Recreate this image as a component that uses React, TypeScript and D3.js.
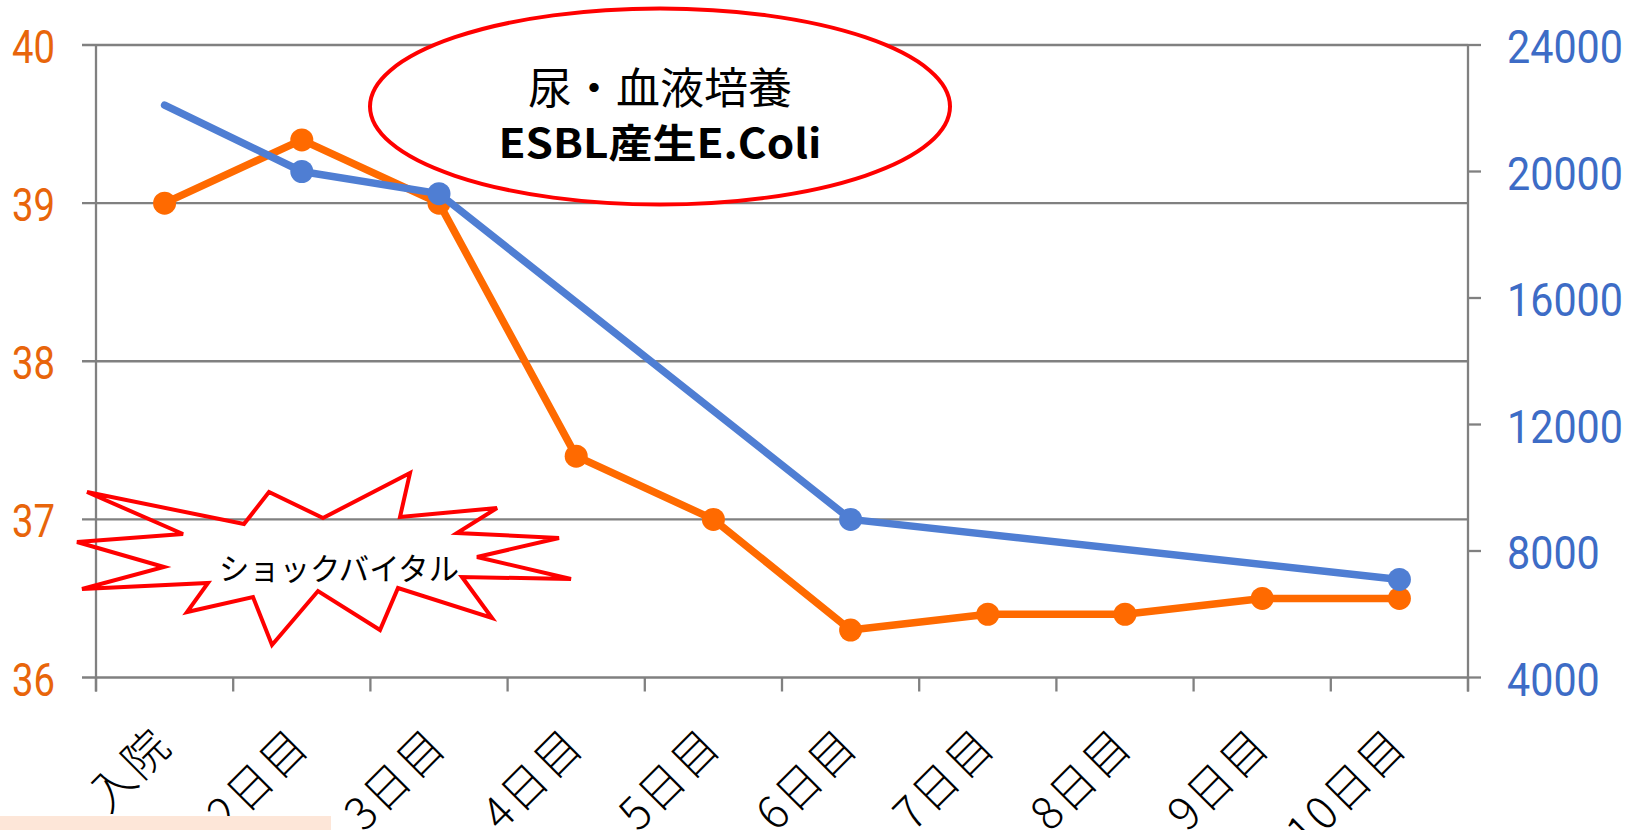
import React from 'react';
import * as d3 from 'd3';

const categories = ["入院", "2日目", "3日目", "4日目", "5日目", "6日目", "7日目", "8日目", "9日目", "10日目"];
const temperature = [39.0, 39.4, 39.0, 37.4, 37.0, 36.3, 36.4, 36.4, 36.5, 36.5];
const wbc: (number | null)[] = [22100, 20000, 19300, null, null, 9000, null, null, null, 7100];
const wbcMarker = [false, true, true, false, false, true, false, false, false, true];
const leftTicks = [36, 37, 38, 39, 40];
const rightTicks = [4000, 8000, 12000, 16000, 20000, 24000];
const cultureNote = ["尿・血液培養", "ESBL産生E.Coli"];
const shockNote = "ショックバイタル";

const W = 1637;
const H = 830;
const PLOT = { left: 96, right: 1468, top: 45, bottom: 677.5 };

// annotation shape (starburst outline)
const STAR: [number, number][] = [
  [87, 492], [244, 524], [269, 492], [323, 518], [410, 473], [400, 517],
  [497, 508], [457, 533], [559, 538], [477, 557], [571, 579], [462, 577],
  [492, 618], [398, 588], [380, 630], [318, 591], [272, 645], [253, 597],
  [187, 612], [208, 583], [82, 589], [164, 567], [77, 542], [183, 534],
];

const GRAY = '#808080';
const ORANGE = '#FF6A00';
const BLUE = '#4F7ED3';
const ORANGE_TXT = '#E8650A';
const BLUE_TXT = '#3D6CC6';

export default function App() {
  const x = d3.scaleBand<string>().domain(categories).range([PLOT.left, PLOT.right]).padding(0);
  const cx = (i: number) => (x(categories[i]) as number) + x.bandwidth() / 2;
  const yL = d3.scaleLinear().domain([36, 40]).range([PLOT.bottom, PLOT.top]);
  const yR = d3.scaleLinear().domain([4000, 24000]).range([PLOT.bottom, PLOT.top]);

  const tempPts = temperature.map((v, i) => [cx(i), yL(v)] as [number, number]);
  const wbcPts = wbc
    .map((v, i) => (v == null ? null : { i, p: [cx(i), yR(v)] as [number, number] }))
    .filter((d): d is { i: number; p: [number, number] } => d !== null);

  const line = d3.line<[number, number]>().x(d => d[0]).y(d => d[1]);
  const bounds = [...categories.map(c => x(c) as number), PLOT.right];

  const starPath = d3.line<[number, number]>().curve(d3.curveLinearClosed)(STAR) as string;

  const numFont = 'Roboto, "Noto Sans", sans-serif';
  const jpFont = '"Noto Sans CJK JP", sans-serif';

  return (
    <svg width={W} height={H} style={{ position: 'absolute', left: 0, top: 0, display: 'block', background: '#fff' }}>
      <rect x={0} y={0} width={W} height={H} fill="#fff" />
      {/* gridlines */}
      {leftTicks.map(t => (
        <line key={'g' + t} x1={PLOT.left - 14} x2={PLOT.right} y1={yL(t)} y2={yL(t)} stroke={GRAY} strokeWidth={2.3} />
      ))}
      {/* right ticks */}
      {rightTicks.map(t => (
        <line key={'rt' + t} x1={PLOT.right} x2={PLOT.right + 13} y1={yR(t)} y2={yR(t)} stroke={GRAY} strokeWidth={2.3} />
      ))}
      {/* x ticks */}
      {bounds.map((b, i) => (
        <line key={'xt' + i} x1={b} x2={b} y1={PLOT.bottom} y2={PLOT.bottom + 14} stroke={GRAY} strokeWidth={2.3} />
      ))}
      {/* axes */}
      <line x1={PLOT.left} x2={PLOT.left} y1={PLOT.top} y2={PLOT.bottom + 14} stroke={GRAY} strokeWidth={2.3} />
      <line x1={PLOT.right} x2={PLOT.right} y1={PLOT.top} y2={PLOT.bottom + 14} stroke={GRAY} strokeWidth={2.3} />

      {/* starburst annotation */}
      <path d={starPath} fill="none" stroke="#FF0000" strokeWidth={4} strokeLinejoin="miter" />
      <text x={339} y={566} fontFamily={jpFont} fontSize={31} textAnchor="middle" dominantBaseline="central"
        textLength={240} lengthAdjust="spacingAndGlyphs" fill="#000">{shockNote}</text>

      {/* series: temperature */}
      <path d={line(tempPts) as string} fill="none" stroke={ORANGE} strokeWidth={7.5} strokeLinejoin="round" strokeLinecap="round" />
      {tempPts.map((p, i) => (
        <circle key={'tm' + i} cx={p[0]} cy={p[1]} r={11.5} fill={ORANGE} />
      ))}
      {/* series: WBC */}
      <path d={line(wbcPts.map(d => d.p)) as string} fill="none" stroke={BLUE} strokeWidth={7.5} strokeLinejoin="round" strokeLinecap="round" />
      {wbcPts.filter(d => wbcMarker[d.i]).map(d => (
        <circle key={'wm' + d.i} cx={d.p[0]} cy={d.p[1]} r={11.5} fill={BLUE} />
      ))}

      {/* culture ellipse */}
      <ellipse cx={660} cy={106.5} rx={290} ry={98} fill="#fff" stroke="#FF0000" strokeWidth={4} />
      <text x={660} y={85} fontFamily={jpFont} fontSize={43} textAnchor="middle" dominantBaseline="central"
        textLength={264} lengthAdjust="spacingAndGlyphs" fill="#000">{cultureNote[0]}</text>
      <text x={660} y={141} fontFamily={jpFont} fontSize={40} fontWeight={700} textAnchor="middle" dominantBaseline="central"
        textLength={323} lengthAdjust="spacingAndGlyphs" fill="#000">{cultureNote[1]}</text>

      {/* left axis labels */}
      {leftTicks.map(t => (
        <text key={'lt' + t} x={55} y={yL(t) + 18} fontFamily={numFont} fontSize={46} textAnchor="end"
          textLength={43} lengthAdjust="spacingAndGlyphs" fill={ORANGE_TXT}>{t}</text>
      ))}
      {/* right axis labels */}
      {rightTicks.map(t => (
        <text key={'rl' + t} x={1507} y={yR(t) + 18} fontFamily={numFont} fontSize={46} textAnchor="start"
          textLength={String(t).length * 23.2} lengthAdjust="spacingAndGlyphs" fill={BLUE_TXT}>{t}</text>
      ))}
      {/* x labels */}
      {categories.map((c, i) => (
        <text key={'xl' + i} transform={`translate(${cx(i) + 10},${748}) rotate(-45)`} fontFamily={jpFont}
          fontSize={45} fontWeight={300} letterSpacing={2} textAnchor="end" fill="#000">{c}</text>
      ))}

      {/* bottom-left band */}
      <rect x={0} y={816} width={331} height={14} fill="#FDE6D8" />
    </svg>
  );
}
